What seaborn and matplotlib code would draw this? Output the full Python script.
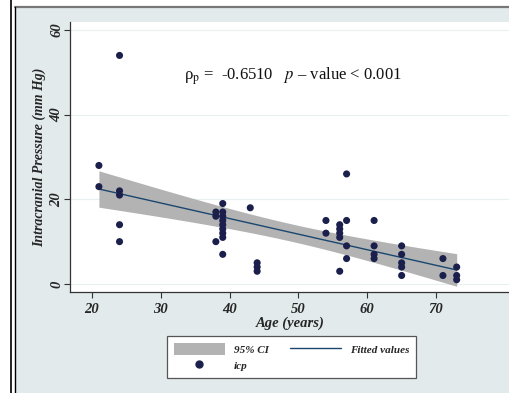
import matplotlib
matplotlib.use("Agg")
import matplotlib.pyplot as plt
from matplotlib.lines import Line2D
from matplotlib.patches import Patch, Rectangle
import numpy as np
import pandas as pd
import seaborn as sns

# values
age = [21, 21,
       24, 24, 24, 24, 24,
       38, 38, 38,
       39, 39, 39, 39, 39, 39, 39, 39, 39,
       43,
       44, 44, 44,
       54, 54,
       56, 56, 56, 56, 56,
       57, 57, 57, 57,
       61, 61, 61, 61,
       65, 65, 65, 65, 65,
       71, 71,
       73, 73, 73]
icp = [28, 23,
       54, 22, 21, 14, 10,
       17, 16, 10,
       19, 17, 16, 15, 14, 13, 12, 11, 7,
       18,
       5, 4, 3,
       15, 12,
       14, 13, 12, 11, 3,
       26, 15, 9, 6,
       15, 9, 7, 6,
       9, 7, 5, 4, 2,
       6, 2,
       4, 2, 1]
x_ticks = [20, 30, 40, 50, 60, 70]
y_ticks = [0, 20, 40, 60]

df = pd.DataFrame({"age": age, "icp": icp})

# OLS fit with analytic 95% CI of the mean (like Stata lfitci)
xa = df["age"].to_numpy(float)
ya = df["icp"].to_numpy(float)
n = len(xa)
b1, b0 = np.polyfit(xa, ya, 1)
resid = ya - (b0 + b1 * xa)
s = np.sqrt((resid ** 2).sum() / (n - 2))
sxx = ((xa - xa.mean()) ** 2).sum()
grid = np.linspace(xa.min(), xa.max(), 100)
fit = b0 + b1 * grid
se = s * np.sqrt(1 / n + (grid - xa.mean()) ** 2 / sxx)
tcrit = 2.013
fit_df = pd.DataFrame({"age": grid, "fit": fit, "lo": fit - tcrit * se, "hi": fit + tcrit * se})

bg = "#e2eaec"
navy = "#1b1f4b"
fit_col = "#1a476f"
band_col = "#b3b3b3"

sns.set_theme(style="white")
plt.rcParams["font.family"] = ["Liberation Serif", "DejaVu Serif"]
plt.rcParams["mathtext.fontset"] = "stix"

fig = plt.figure(figsize=(5.1, 3.93), dpi=100)
fig.patch.set_facecolor("white")

# stata-like outer panel
fig.patches.append(Rectangle((16 / 510, 0), 1, 385 / 393, transform=fig.transFigure,
                             facecolor=bg, edgecolor="none", zorder=-5))
fig.add_artist(Line2D([15 / 510, 1], [386 / 393, 386 / 393], transform=fig.transFigure,
                      color="#777777", lw=1.6))
fig.add_artist(Line2D([11.5 / 510, 11.5 / 510], [0, 1], transform=fig.transFigure,
                      color="black", lw=1.2))
fig.add_artist(Line2D([15.5 / 510, 15.5 / 510], [0, 386 / 393], transform=fig.transFigure,
                      color="black", lw=1.0))

ax = fig.add_axes([70 / 510, 101 / 393, 440 / 510, 270 / 393])
ax.set_facecolor("white")

ax.fill_between(fit_df["age"], fit_df["lo"], fit_df["hi"], color=band_col, lw=0, zorder=2)
sns.lineplot(data=fit_df, x="age", y="fit", ax=ax, color=fit_col, lw=1.0, zorder=3)
sns.scatterplot(data=df, x="age", y="icp", ax=ax, s=26, color=navy, edgecolor="none",
                zorder=4)

ax.set_xlim(16.8, 80.75)
ax.set_ylim(-1.9, 61.9)
ax.set_xticks(x_ticks)
ax.set_yticks(y_ticks)
ax.grid(axis="y", color="#e8f0f2", lw=0.9)
ax.grid(axis="x", visible=False)
ax.set_axisbelow(True)

for sp in ["top", "right"]:
    ax.spines[sp].set_visible(False)
for sp in ["left", "bottom"]:
    ax.spines[sp].set_color("#333333")
    ax.spines[sp].set_linewidth(0.9)

ax.tick_params(axis="both", direction="out", length=4, width=0.8, color="#333333",
               labelsize=10.5, bottom=True, left=True)
ax.tick_params(axis="y", pad=1)
ax.tick_params(axis="x", pad=4)
for lab in ax.get_xticklabels():
    lab.set_fontweight("bold")
    lab.set_fontstyle("italic")
for lab in ax.get_yticklabels():
    lab.set_fontweight("bold")
    lab.set_fontstyle("italic")
    lab.set_rotation(90)
    lab.set_va("center")

ax.set_xlabel("Age (years)", fontsize=10.5, fontweight="bold", fontstyle="italic", labelpad=0)
ax.set_ylabel("Intracranial Pressure (mm Hg)", fontsize=10, fontweight="bold",
              fontstyle="italic", labelpad=3)

ax.text(33.4, 49, "ρ$_\\mathrm{p}$ =  -0.6510   $p$ – value < 0.001", fontsize=12,
        va="center", ha="left", color="#111111")

handles = [Patch(facecolor=band_col, edgecolor="none"),
           Line2D([], [], marker="o", ls="none", color=navy, markersize=5),
           Line2D([], [], color=fit_col, lw=1.0)]
labels = ["95% CI", "icp", "Fitted values"]
leg = fig.legend(handles, labels, ncol=2, loc="center",
                 bbox_to_anchor=(291.5 / 510, 36 / 393), frameon=True, fancybox=False,
                 edgecolor="#555555", facecolor="white", framealpha=1,
                 prop={"family": "Liberation Serif", "weight": "bold", "style": "italic", "size": 8},
                 handlelength=4.6, handleheight=1.3, handletextpad=0.8, columnspacing=1.9,
                 borderpad=0.6, labelspacing=0.35)
leg.get_frame().set_linewidth(0.9)

fig.savefig("out.png", dpi=100, facecolor=fig.get_facecolor())
